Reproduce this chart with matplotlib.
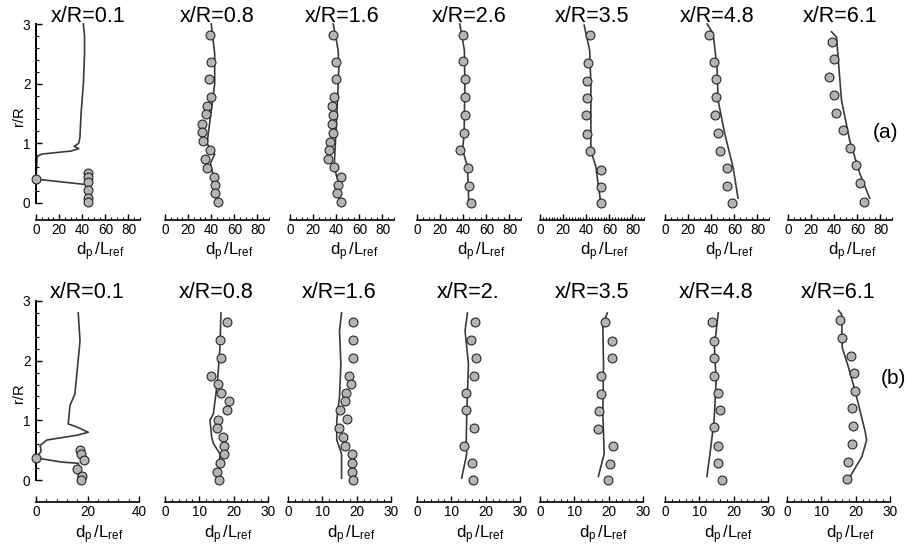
import matplotlib
matplotlib.use('Agg')
import matplotlib.pyplot as plt
from matplotlib.ticker import MultipleLocator

plt.rcParams['font.family'] = ['Liberation Sans', 'DejaVu Sans']
plt.rcParams['mathtext.fontset'] = 'custom'
plt.rcParams['mathtext.rm'] = 'Liberation Sans'
plt.rcParams['mathtext.it'] = 'Liberation Sans:italic'

# ---------------- data ----------------
titles_a = ["x/R=0.1", "x/R=0.8", "x/R=1.6", "x/R=2.6", "x/R=3.5", "x/R=4.8", "x/R=6.1"]
titles_b = ["x/R=0.1", "x/R=0.8", "x/R=1.6", "x/R=2.", "x/R=3.5", "x/R=4.8", "x/R=6.1"]

# row (a): lines (x, r)
a_line_x = [
    [44, 44, 43, 0, 1, 5, 30, 37, 33, 37, 38, 39, 41, 42, 42, 41],
    [44.8, 42, 39.3, 43, 36.5, 37.4, 40, 43, 43, 40],
    [43.1, 41.7, 38.2, 39.7, 41.1, 42.3, 41.7, 37.4],
    [44.8, 43.7, 39.4, 40.8, 41.4, 41, 37],
    [52.6, 48.3, 44, 44, 43, 38.2],
    [63.2, 58.9, 51.7, 46, 45, 41.6, 36.5],
    [70.7, 62, 53.4, 46.3, 44, 42, 37.7],
]
a_line_r = [
    [0.0, 0.2, 0.31, 0.40, 0.78, 0.82, 0.87, 0.91, 0.95, 1.0, 1.1, 1.5, 2.0, 2.5, 2.8, 3.0],
    [0.0, 0.44, 0.66, 0.82, 0.99, 1.16, 1.54, 2.0, 2.5, 3.0],
    [0.0, 0.36, 0.6, 1.16, 1.72, 2.28, 2.56, 3.0],
    [0.0, 0.61, 0.89, 1.16, 2.0, 2.56, 3.0],
    [0.0, 0.61, 0.88, 2.0, 2.56, 2.98],
    [0.08, 0.6, 1.16, 1.72, 2.28, 2.84, 3.0],
    [0.08, 0.5, 1.05, 1.72, 2.28, 2.78, 2.87],
]
# row (a): measured points
a_pts_x = [
    [45, 45, 45, 45, 45, 45, 0],
    [38.8, 39.4, 38.2, 39.4, 36.5, 35.3, 31.6, 31.6, 33, 38.8, 34.5, 36.5, 42.2, 43.1, 43.7, 46],
    [37.4, 39.4, 39.4, 38.2, 36.5, 37.4, 36.5, 37.4, 34.5, 33.9, 33, 38.2, 44.5, 41.7, 41.1, 44],
    [39.4, 39.4, 41.4, 41.4, 41.4, 40.8, 37.6, 44.3, 44.8, 46.6],
    [43.1, 41.7, 41.1, 41.1, 40.2, 41.1, 43.1, 52.6, 52.6, 53.2],
    [37.9, 42.5, 44, 44.5, 43.7, 46, 47.4, 53.7, 54, 58],
    [38.5, 40, 35.3, 39.7, 41.4, 47.7, 53.4, 58.6, 62.6, 65.5],
]
a_pts_r = [
    [0.51, 0.43, 0.36, 0.22, 0.08, 0.02, 0.40],
    [2.81, 2.37, 2.07, 1.77, 1.63, 1.49, 1.33, 1.19, 1.04, 0.89, 0.73, 0.59, 0.44, 0.30, 0.16, 0.01],
    [2.82, 2.37, 2.07, 1.77, 1.63, 1.47, 1.33, 1.18, 1.03, 0.89, 0.74, 0.60, 0.44, 0.30, 0.16, 0.01],
    [2.82, 2.38, 2.07, 1.78, 1.48, 1.18, 0.89, 0.58, 0.29, 0.0],
    [2.81, 2.35, 2.05, 1.76, 1.47, 1.16, 0.87, 0.56, 0.27, 0.0],
    [2.82, 2.37, 2.07, 1.78, 1.48, 1.18, 0.87, 0.58, 0.29, 0.0],
    [2.70, 2.41, 2.11, 1.81, 1.51, 1.22, 0.93, 0.63, 0.33, 0.02],
]

# row (b): lines
b_line_x = [
    [16.5, 16.5, 10, 0, 2, 1.6, 4.2, 15.8, 20.3, 15.8, 12.5, 13.2, 15.1, 17.1, 16.4],
    [16, 15.9, 16, 14.1, 13.6, 13.1, 14.1, 15.3, 16, 16.3],
    [15.6, 15.6, 14.2, 14.2, 15.0, 15.4, 15.0, 15.6],
    [13.0, 14.5, 14.3, 14.5, 15.0, 14.0, 14.7],
    [17.0, 18.7, 18.3, 18.5, 18.3, 19.6],
    [12.2, 13.1, 14.3, 14.9, 14.4, 15.5],
    [18.4, 21.8, 23.2, 22.7, 19.8, 17.9, 16.1, 15.9, 15.0],
]
b_line_r = [
    [0.05, 0.28, 0.30, 0.37, 0.48, 0.58, 0.67, 0.75, 0.80, 0.89, 0.94, 1.25, 1.44, 2.33, 2.8],
    [0.0, 0.22, 0.44, 0.61, 0.72, 1.0, 1.11, 1.66, 2.22, 2.8],
    [0.03, 0.44, 0.67, 1.0, 1.39, 1.94, 2.5, 2.8],
    [0.03, 0.44, 0.56, 1.11, 1.94, 2.5, 2.8],
    [0.06, 0.44, 1.11, 1.94, 2.6, 2.8],
    [0.06, 0.44, 1.0, 1.66, 2.22, 2.8],
    [0.06, 0.39, 0.67, 0.83, 1.5, 1.89, 2.22, 2.78, 2.84],
]
# row (b): measured points
b_pts_x = [
    [17.1, 17.5, 18.6, 16.0, 17.7, 17.3, 0],
    [18.2, 16.0, 16.3, 13.4, 15.4, 16.3, 18.5, 18.0, 15.4, 15.1, 16.8, 17.2, 17.2, 16.0, 15.1, 15.8],
    [18.9, 19.0, 19.0, 17.9, 18.4, 16.9, 16.6, 15.2, 17.3, 14.9, 16.1, 16.6, 18.6, 18.6, 18.6, 18.8],
    [16.9, 15.7, 17.2, 16.7, 14.3, 14.2, 16.7, 13.7, 15.9, 16.2],
    [19.0, 21.1, 21.1, 17.7, 17.8, 17.3, 17.0, 21.2, 20.4, 19.9],
    [13.8, 14.3, 14.4, 14.4, 15.3, 16.0, 14.4, 15.3, 15.5, 16.5],
    [15.3, 16.1, 18.6, 19.6, 19.8, 19.0, 19.3, 18.8, 17.9, 17.4],
]
b_pts_r = [
    [0.50, 0.43, 0.34, 0.19, 0.06, 0.0, 0.37],
    [2.64, 2.34, 2.04, 1.75, 1.61, 1.46, 1.32, 1.17, 1.01, 0.87, 0.72, 0.57, 0.43, 0.28, 0.13, 0.0],
    [2.64, 2.34, 2.04, 1.75, 1.61, 1.46, 1.32, 1.17, 1.03, 0.87, 0.72, 0.57, 0.43, 0.28, 0.13, 0.0],
    [2.64, 2.34, 2.04, 1.75, 1.46, 1.17, 0.87, 0.57, 0.28, 0.0],
    [2.64, 2.33, 2.04, 1.74, 1.44, 1.16, 0.86, 0.57, 0.27, 0.0],
    [2.64, 2.33, 2.04, 1.75, 1.46, 1.17, 0.88, 0.57, 0.28, 0.0],
    [2.68, 2.38, 2.08, 1.79, 1.50, 1.20, 0.91, 0.61, 0.31, 0.01],
]

a_xmax = [90] * 7
a_major = [20] * 7
a_minor = [5, 5, 5, 5, 2.5, 5, 5]
b_xmax = [40, 30, 30, 30, 30, 30, 30]
b_major = [20, 10, 10, 10, 10, 10, 10]
b_minor = [4, 2, 2, 2, 2, 2, 2]

# ---------------- layout / style ----------------
W, H = 913, 550
fig = plt.figure(figsize=(W / 100, H / 100), dpi=100)

LC = '#3a3a3a'
MFC = '#b4b4b4'
MEC = '#262626'
PX = 0.72  # points per pixel


def rect(x0, ytop, w, h):
    return [x0 / W, 1 - (ytop + h) / H, w / W, h / H]


rows = [
    dict(ytop=24, h=179, xs=[36, 165, 290, 417, 540, 665, 788], w=104, off=17,
         titles=titles_a, lx=a_line_x, lr=a_line_r, px=a_pts_x, pr=a_pts_r,
         xmax=a_xmax, major=a_major, minor=a_minor, ty=16, ly=240, tag='(a)', tagxy=(885, 133)),
    dict(ytop=301, h=179, xs=[36, 165, 288, 417, 540, 665, 787], w=103, off=22,
         titles=titles_b, lx=b_line_x, lr=b_line_r, px=b_pts_x, pr=b_pts_r,
         xmax=b_xmax, major=b_major, minor=b_minor, ty=293, ly=523, tag='(b)', tagxy=(893, 378)),
]

for row in rows:
    for i in range(7):
        ax = fig.add_axes(rect(row['xs'][i], row['ytop'], row['w'], row['h']))
        ax.set_xlim(0, row['xmax'][i])
        ax.set_ylim(0, 3)
        ax.patch.set_visible(False)
        ax.spines['top'].set_visible(False)
        ax.spines['right'].set_visible(False)
        ax.spines['bottom'].set_position(('outward', row['off'] * PX))
        ax.spines['bottom'].set_linewidth(1.2)
        ax.xaxis.set_major_locator(MultipleLocator(row['major'][i]))
        ax.xaxis.set_minor_locator(MultipleLocator(row['minor'][i]))
        ax.tick_params(axis='x', which='major', direction='in', length=4, width=1.0,
                       labelsize=9.8, pad=2.5)
        ax.tick_params(axis='x', which='minor', direction='in', length=2.2, width=0.8)
        if i == 0:
            ax.spines['left'].set_linewidth(1.4)
            ax.set_yticks([0, 1, 2, 3])
            ax.yaxis.set_minor_locator(MultipleLocator(0.2))
            ax.tick_params(axis='y', which='major', direction='in', length=4, width=1.0,
                           labelsize=9.8, pad=4)
            ax.tick_params(axis='y', which='minor', direction='in', length=2.2, width=0.8)
            fig.text(19 / W, 1 - (row['ytop'] + 92) / H, 'r/R', rotation=90,
                     ha='center', va='center', fontsize=10.5)
        else:
            ax.spines['left'].set_visible(False)
            ax.set_yticks([])
        ax.plot(row['lx'][i], row['lr'][i], color=LC, lw=1.2, clip_on=False, zorder=2)
        ax.plot(row['px'][i], row['pr'][i], 'o', ls='none', ms=6.4, mfc=MFC, mec=MEC,
                mew=0.8, clip_on=False, zorder=3)
        cx = row['xs'][i] + row['w'] / 2
        fig.text(cx / W, 1 - row['ty'] / H, row['titles'][i], ha='center', va='center',
                 fontsize=15.5)
        fig.text((cx + 12) / W, 1 - row['ly'] / H, r'$\mathrm{d_p\,/L_{ref}}$',
                 ha='center', va='top', fontsize=12)
    tx, ty = row['tagxy']
    fig.text(tx / W, 1 - ty / H, row['tag'], ha='center', va='center', fontsize=15)

fig.savefig('out.png', dpi=100)
